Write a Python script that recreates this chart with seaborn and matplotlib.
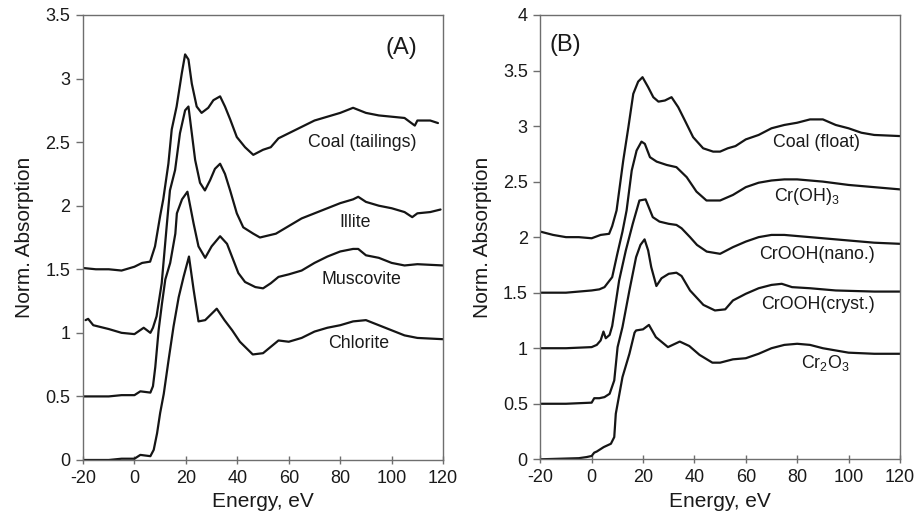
import numpy as np
import pandas as pd
import matplotlib
matplotlib.use("Agg")
import matplotlib.pyplot as plt
import seaborn as sns

# ---------------- Panel A data ----------------
coal_t_E = [-20, -15, -10, -5, 0, 3, 6.1, 8, 10, 11.2, 13.2, 14.5, 16.4, 18.4, 19.7, 21, 22.3, 24.2, 26.1, 28.7,
            30.7, 33.3, 35.2, 37.2, 39.8, 43, 46.2, 50, 53, 56, 60, 65, 70, 75, 80, 85, 90, 95, 100, 105, 109, 110, 115, 118]
coal_t_Y = [1.51, 1.50, 1.50, 1.49, 1.52, 1.55, 1.56, 1.68, 1.92, 2.05, 2.33, 2.60, 2.78, 3.04, 3.19, 3.15, 2.96, 2.78, 2.73, 2.77,
            2.83, 2.86, 2.78, 2.68, 2.54, 2.46, 2.40, 2.44, 2.46, 2.53, 2.57, 2.62, 2.67, 2.70, 2.73, 2.77, 2.73, 2.71, 2.70, 2.69, 2.63, 2.67, 2.67, 2.65]

illite_E = [-19, -18, -16, -10, -5, 0, 3.6, 6.2, 7.2, 8.6, 10.6, 12.5, 13.8, 15.8, 17.7, 19.7, 21, 22.3, 23.6, 25.5,
            27.4, 29.4, 31.3, 33.3, 35.2, 37.2, 39.8, 42.3, 46.2, 48.8, 55, 60, 65, 70, 75, 80, 85, 87, 90, 95, 100, 105, 108, 110, 115, 119]
illite_Y = [1.10, 1.11, 1.06, 1.03, 1.00, 0.99, 1.04, 1.00, 1.04, 1.13, 1.39, 1.83, 2.12, 2.28, 2.57, 2.75, 2.78, 2.57, 2.36, 2.18,
            2.12, 2.20, 2.29, 2.33, 2.25, 2.12, 1.94, 1.83, 1.78, 1.75, 1.78, 1.84, 1.90, 1.94, 1.98, 2.02, 2.05, 2.07, 2.03, 2.00, 1.98, 1.95, 1.91, 1.94, 1.95, 1.97]

musc_E = [-20, -10, -5, 0, 2.3, 6.2, 7.2, 8.1, 9.4, 10.7, 12, 13.9, 15.9, 16.5, 18.5, 20.6, 23, 24.9, 27.5, 30,
          33.3, 36, 40.4, 43, 47, 50, 53, 56, 60, 65, 70, 75, 80, 85, 87, 90, 95, 100, 105, 110, 120]
musc_Y = [0.50, 0.50, 0.51, 0.51, 0.54, 0.53, 0.58, 0.73, 1.02, 1.23, 1.42, 1.55, 1.78, 1.94, 2.05, 2.11, 1.86, 1.68, 1.59, 1.68,
          1.76, 1.70, 1.47, 1.40, 1.36, 1.35, 1.39, 1.44, 1.46, 1.49, 1.55, 1.60, 1.64, 1.66, 1.66, 1.61, 1.59, 1.55, 1.53, 1.54, 1.53]

chlor_E = [-20, -10, -5, 0, 2.3, 6.2, 7.5, 8.8, 10, 11.4, 13.3, 15.2, 17.2, 19.1, 21.2, 23, 24.9, 27.5, 30, 32,
           35, 38, 41, 43, 46, 50, 53, 56, 60, 65, 70, 75, 80, 85, 90, 95, 100, 105, 110, 120]
chlor_Y = [0.0, 0.0, 0.01, 0.01, 0.04, 0.03, 0.08, 0.21, 0.37, 0.52, 0.79, 1.05, 1.28, 1.44, 1.60, 1.34, 1.09, 1.10, 1.15, 1.19,
           1.10, 1.02, 0.93, 0.89, 0.83, 0.84, 0.89, 0.94, 0.93, 0.96, 1.01, 1.04, 1.06, 1.09, 1.10, 1.06, 1.02, 0.98, 0.96, 0.95]

# ---------------- Panel B data ----------------
coal_f_E = [-20, -15, -10, -5, 0, 3.5, 6.8, 8, 9.7, 12.3, 14.3, 16.2, 18.1, 19.8, 22, 24, 26, 28.5, 31.1, 33.7,
            36.3, 39.5, 43.4, 47.3, 50, 53, 56, 60, 65, 70, 75, 80, 85, 90, 95, 100, 105, 110, 120]
coal_f_Y = [2.05, 2.02, 2.00, 2.00, 1.99, 2.02, 2.03, 2.10, 2.24, 2.69, 2.99, 3.29, 3.40, 3.44, 3.35, 3.26, 3.22, 3.23, 3.26, 3.17,
            3.05, 2.90, 2.80, 2.77, 2.77, 2.80, 2.82, 2.88, 2.92, 2.98, 3.01, 3.03, 3.06, 3.06, 3.01, 2.98, 2.94, 2.92, 2.91]

croh_E = [-20, -10, 0, 3, 5, 8, 10, 12, 13.6, 15.6, 17.5, 19.4, 20.7, 22.7, 25.3, 29.2, 33, 37, 40.8, 44.7,
          50, 55, 60, 65, 70, 75, 80, 85, 90, 100, 110, 120]
croh_Y = [1.50, 1.50, 1.52, 1.53, 1.55, 1.64, 1.85, 2.05, 2.24, 2.60, 2.78, 2.86, 2.84, 2.72, 2.68, 2.65, 2.63, 2.54, 2.41, 2.33,
          2.33, 2.38, 2.45, 2.49, 2.51, 2.52, 2.52, 2.51, 2.50, 2.47, 2.45, 2.43]

nano_E = [-20, -10, 0, 2, 3.5, 4.6, 5.5, 7, 8, 8.8, 10.7, 13.3, 16, 18.6, 21, 23.8, 26.4, 30, 33, 35,
          38.3, 41, 44.8, 50, 55, 60, 65, 70, 75, 80, 90, 100, 110, 120]
nano_Y = [1.00, 1.00, 1.01, 1.03, 1.07, 1.15, 1.09, 1.12, 1.20, 1.32, 1.61, 1.88, 2.12, 2.33, 2.34, 2.18, 2.14, 2.12, 2.11, 2.08,
          2.00, 1.93, 1.87, 1.85, 1.91, 1.96, 2.00, 2.02, 2.02, 2.01, 1.99, 1.97, 1.95, 1.94]

cryst_E = [-20, -10, 0, 1, 3, 5, 7, 8.8, 10.1, 12, 14.7, 17.3, 19, 20.6, 22, 23.2, 25.2, 27.2, 30, 33,
           35, 38.3, 43.5, 48, 52, 55, 60, 65, 70, 74, 78, 85, 95, 110, 120]
cryst_Y = [0.50, 0.50, 0.51, 0.55, 0.55, 0.56, 0.59, 0.71, 1.01, 1.19, 1.52, 1.82, 1.93, 1.98, 1.88, 1.73, 1.56, 1.63, 1.67, 1.68,
           1.65, 1.52, 1.39, 1.34, 1.35, 1.43, 1.49, 1.54, 1.57, 1.58, 1.55, 1.54, 1.52, 1.51, 1.51]

cr2o3_E = [-20, -5, -2, 0, 1, 2, 4.7, 7.5, 8.8, 9.4, 12, 14.7, 16.7, 17.3, 20, 22.3, 25, 29.7, 34.3, 38,
           42, 47, 50, 55, 60, 65, 70, 75, 80, 85, 90, 95, 100, 110, 120]
cr2o3_Y = [0.0, 0.01, 0.02, 0.03, 0.06, 0.07, 0.11, 0.14, 0.20, 0.41, 0.74, 0.95, 1.14, 1.16, 1.17, 1.21, 1.10, 1.01, 1.06, 1.02,
           0.94, 0.87, 0.87, 0.90, 0.91, 0.95, 1.00, 1.03, 1.04, 1.03, 1.00, 0.98, 0.96, 0.95, 0.95]

labels_A = ["Coal (tailings)", "Illite", "Muscovite", "Chlorite"]
labels_B = ["Coal (float)", "Cr(OH)$_3$", "CrOOH(nano.)", "CrOOH(cryst.)", "Cr$_2$O$_3$"]
x_ticks = [-20, 0, 20, 40, 60, 80, 100, 120]
yticks_A = [0, 0.5, 1, 1.5, 2, 2.5, 3, 3.5]
yticks_B = [0, 0.5, 1, 1.5, 2, 2.5, 3, 3.5, 4]

# ---------------- styling ----------------
sns.set_theme(style="ticks")
plt.rcParams["font.family"] = ["Liberation Sans", "DejaVu Sans"]
plt.rcParams["mathtext.fontset"] = "custom"
plt.rcParams["mathtext.rm"] = "Liberation Sans"
plt.rcParams["mathtext.it"] = "Liberation Sans"
plt.rcParams["mathtext.default"] = "rm"

TEXT = "#1a1a1a"
LINE = "#151515"
SPINE = "#6e6e6e"

fig = plt.figure(figsize=(9.14, 5.26), dpi=100)
axA = fig.add_axes([0.0908, 0.1255, 0.394, 0.846])
axB = fig.add_axes([0.5911, 0.1268, 0.3935, 0.8447])

def draw(ax, curves):
    for E, Y in curves:
        df = pd.DataFrame({"E": E, "Y": Y})
        sns.lineplot(data=df, x="E", y="Y", ax=ax, color=LINE, linewidth=1.6,
                     estimator=None, sort=True)

draw(axA, [(coal_t_E, coal_t_Y), (illite_E, illite_Y), (musc_E, musc_Y), (chlor_E, chlor_Y)])
draw(axB, [(coal_f_E, coal_f_Y), (croh_E, croh_Y), (nano_E, nano_Y), (cryst_E, cryst_Y), (cr2o3_E, cr2o3_Y)])

for ax, yt, ymax in [(axA, yticks_A, 3.5), (axB, yticks_B, 4.0)]:
    ax.set_xlim(-20, 120)
    ax.set_ylim(0, ymax)
    ax.set_xticks(x_ticks)
    ax.set_yticks(yt)
    ax.set_xticklabels([str(v) for v in x_ticks])
    ax.set_yticklabels([("%g" % v) for v in yt])
    ax.tick_params(axis="x", direction="inout", length=6, width=1, color=SPINE,
                   labelsize=13, labelcolor=TEXT, pad=4)
    ax.tick_params(axis="y", direction="out", length=5, width=1, color=SPINE,
                   labelsize=13, labelcolor=TEXT, pad=4)
    for s in ax.spines.values():
        s.set_visible(True)
        s.set_color(SPINE)
        s.set_linewidth(1.0)
    ax.set_xlabel("Energy, eV", fontsize=15, color=TEXT, labelpad=4)
    ax.set_ylabel("Norm. Absorption", fontsize=15, color=TEXT, labelpad=8)
    ax.set_facecolor("white")

# Panel A annotations
axA.text(103.9, 3.24, "(A)", fontsize=17, color=TEXT, ha="center", va="center")
posA = [(88.4, 2.50), (85.8, 1.87), (88.4, 1.42), (87.1, 0.92)]
for (x, y), lab in zip(posA, labels_A):
    axA.text(x, y, lab, fontsize=12.8, color=TEXT, ha="center", va="center")

# Panel B annotations
axB.text(-10.4, 3.73, "(B)", fontsize=17, color=TEXT, ha="center", va="center")
posB = [(87.6, 2.85), (83.7, 2.37), (87.6, 1.84), (88.2, 1.39), (90.8, 0.87)]
for (x, y), lab in zip(posB, labels_B):
    axB.text(x, y, lab, fontsize=12.8, color=TEXT, ha="center", va="center")

fig.savefig("out.png", dpi=100, facecolor="white")
